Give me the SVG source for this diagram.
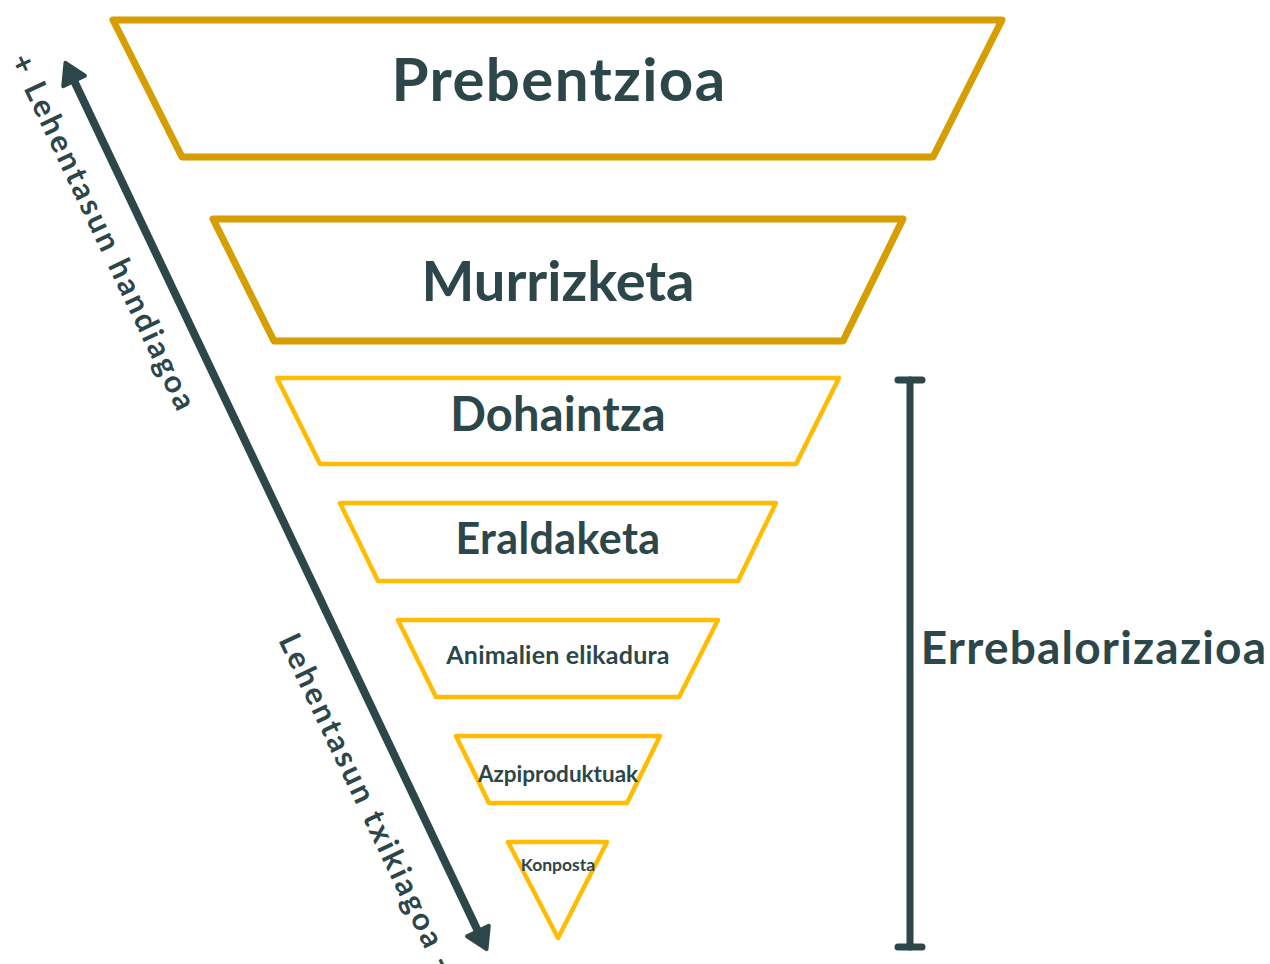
<svg xmlns="http://www.w3.org/2000/svg" width="1270" height="964" viewBox="0 0 1270 964">
<style>
.t{font-family:Lato,"Noto Sans",sans-serif;font-weight:bold;fill:#2C4649;text-anchor:middle}
.dk{fill:#fff;stroke:#D69E00;stroke-width:7;stroke-linejoin:round}
.lt{fill:#fff;stroke:#FFBC00;stroke-width:4.5;stroke-linejoin:round}
.ln{stroke:#2C4649;stroke-width:7;stroke-linecap:round;fill:none}
.ar{stroke:#2C4649;stroke-width:8;stroke-linecap:butt;fill:none}
.side{font-family:Lato,"Noto Sans",sans-serif;font-weight:bold;fill:#2C4649;font-size:31px;letter-spacing:2.7px}
</style>
<defs>
<marker id="ah" viewBox="0 0 26 30" refX="12" refY="15" markerWidth="26" markerHeight="30" orient="auto-start-reverse" markerUnits="userSpaceOnUse">
<path d="M3,3 L23,15 L3,27 Z" fill="#2C4649" stroke="#2C4649" stroke-width="4" stroke-linejoin="round"/>
</marker>
</defs>
<rect width="1270" height="964" fill="#fff"/>
<g id="prebentzioa">
<polygon class="dk" points="113,20 1002,20 933,157 182,157"/>
<text class="t" x="559" y="101" font-size="60" letter-spacing="1.4">Prebentzioa</text>
</g>
<g id="murrizketa">
<polygon class="dk" points="213,219 903,219 843,341 274,341"/>
<text class="t" x="558" y="301" font-size="56">Murrizketa</text>
</g>
<g id="dohaintza">
<polygon class="lt" points="277,378 839,378 796,464 320,464"/>
<text class="t" x="558" y="431" font-size="47" letter-spacing="0.2">Dohaintza</text>
</g>
<g id="eraldaketa">
<polygon class="lt" points="340,503 776,503 738,581 378,581"/>
<text class="t" x="558" y="554" font-size="43" letter-spacing="0.4">Eraldaketa</text>
</g>
<g id="animalien">
<polygon class="lt" points="398,620 718,620 679,697 436,697"/>
<text class="t" x="558" y="664" font-size="25" letter-spacing="0.2">Animalien elikadura</text>
</g>
<g id="azpiproduktuak">
<polygon class="lt" points="456,736 660,736 627,803 489,803"/>
<text class="t" x="558" y="782" font-size="22.5">Azpiproduktuak</text>
</g>
<g id="konposta">
<polygon class="lt" points="508,842 607,842 558,938"/>
<text class="t" x="558" y="871" font-size="17.5">Konposta</text>
</g>
<g id="connectors">
<line class="ar" x1="70.2" y1="72.8" x2="481.8" y2="939.2" marker-start="url(#ah)" marker-end="url(#ah)"/>
<line class="ln" x1="910" y1="380" x2="910" y2="947"/>
<line class="ln" x1="898" y1="380" x2="922" y2="380"/>
<line class="ln" x1="898" y1="947" x2="922" y2="947"/>
</g>
<g id="labels">
<text class="t" x="1094" y="664" font-size="46" letter-spacing="1.2">Errebalorizazioa</text>
<text class="side" transform="translate(10,60) rotate(64.6)">+ Lehentasun handiagoa</text>
<text class="side" transform="translate(278,640) rotate(64.6)">Lehentasun txikiagoa -</text>
</g>
</svg>
